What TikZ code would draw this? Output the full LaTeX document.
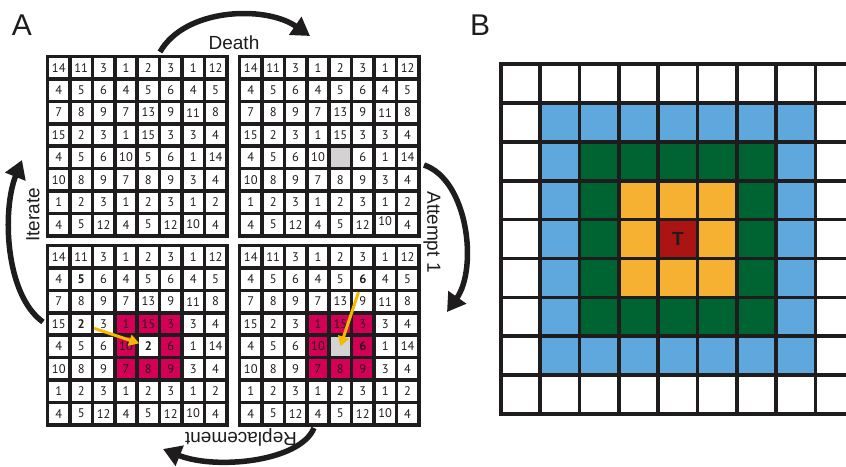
\documentclass[tikz,border=0pt]{standalone}
\usepackage{fontspec}
\setmainfont{Liberation Sans}
\newfontfamily\cellfont{PT Sans}
\usetikzlibrary{arrows.meta}
\definecolor{ink}{RGB}{30,28,28}
\definecolor{hot}{RGB}{212,0,86}
\definecolor{fog}{RGB}{212,210,210}
\definecolor{gold}{RGB}{245,185,0}
\definecolor{sky}{RGB}{94,168,221}
\definecolor{leaf}{RGB}{0,100,50}
\definecolor{amber}{RGB}{246,177,50}
\definecolor{brick}{RGB}{170,20,18}
\tikzset{
        cell/.style={draw=ink,line width=3.5pt,minimum size=22.4pt,inner sep=0pt,
                text=ink,font=\cellfont\fontsize{12.5}{12.5}\selectfont},
        heavy/.style={font=\cellfont\fontsize{12.5}{12.5}\selectfont\bfseries},
        emptycell/.style={fill=fog,/utils/exec=\def\cellv{}},
        ov b-5-5/.style={emptycell},
        ov b-8-7/.style={/utils/exec=\def\cellv{\raisebox{8pt}{10}}},
        ov c-2-2/.style={heavy},
        ov c-4-2/.style={heavy},
        ov c-5-5/.style={heavy,fill=white,/utils/exec=\def\cellv{2}},
        ov d-2-6/.style={heavy},
        ov d-5-5/.style={emptycell},
        ov d-5-6/.style={heavy},
        cyclearrow/.style={draw=ink,line width=5.5pt,-{Triangle[length=18pt,width=21pt]}},
        movearrow/.style={draw=gold,line width=3pt,-{Triangle[length=10pt,width=11pt]}},
        looptag/.style={text=ink,font=\fontsize{19}{19}\selectfont},
        bline/.style={draw=ink,line width=3.7pt,line cap=rect}
}
\begin{document}
\begin{tikzpicture}[x=1pt,y=-1pt]
        \useasboundingbox (0,0) rectangle (846,466);
        \clip (0,0) rectangle (846,466);
        \node[text=ink,font=\fontsize{30}{30}\selectfont] (pa) at (22,25) {A};
        \node[text=ink,font=\fontsize{30}{30}\selectfont] (pb) at (480,25) {B};
        \foreach \g/\gx/\gy in {c/47.6/245.6,d/239.6/245.6}
            \fill[hot] (\gx+67.2,\gy+67.2) rectangle ++(67.2,67.2);
        \foreach \g/\gx/\gy in {a/47.6/56.6,b/239.6/56.6,c/47.6/245.6,d/239.6/245.6}
            \foreach \row [count=\i] in {{14,11,3,1,2,3,1,12},{4,5,6,4,5,6,4,5},
                    {7,8,9,7,13,9,11,8},{15,2,3,1,15,3,3,4},{4,5,6,10,5,6,1,14},
                    {10,8,9,7,8,9,3,4},{1,2,3,1,2,3,1,2},{4,5,12,4,5,12,10,4}}
                \foreach \v [count=\j] in \row
                    \node[cell,/utils/exec=\def\cellv{\v},ov \g-\i-\j/.try] (\g-\i-\j)
                        at (\gx+\j*22.4-11.2,\gy+\i*22.4-11.2) {\cellv};
        \draw[movearrow,shorten >=-4pt] (c-4-2) -- (c-5-5);
        \draw[movearrow] (d-2-6) -- (d-5-5.center);
        \coordinate (ds) at (160,52);
        \coordinate (de) at (310,36);
        \coordinate (as) at (424,165);
        \coordinate (ae) at (447,312);
        \coordinate (rs) at (314,428);
        \coordinate (re) at (163,449);
        \coordinate (is) at (43,322);
        \coordinate (ie) at (22,160);
        \draw[cyclearrow] (ds) .. controls (185,8) and (265,5) .. (de);
        \draw[cyclearrow] (as) .. controls (468,180) and (478,268) .. (ae);
        \draw[cyclearrow] (rs) .. controls (300,462) and (215,470) .. (re);
        \draw[cyclearrow] (is) .. controls (5,295) and (2,210) .. (ie);
        \node[looptag] (death) at (234,43) {Death};
        \node[looptag,rotate=-90] (attempt) at (432,232) {Attempt 1};
        \node[looptag,rotate=180] (repl) at (241,437) {Replacement};
        \node[looptag,rotate=90] (iter) at (33,215) {Iterate};
        \begin{scope}[shift={(501,64)}]
            \def\bx{39.3}
            \def\by{38.9}
            \foreach \k/\col in {1/sky,2/leaf,3/amber,4/brick}
                \fill[\col] (\k*\bx,\k*\by) rectangle ({(9-\k)*\bx},{(9-\k)*\by});
            \foreach \i in {0,...,9} {
                \draw[bline] (\i*\bx,0) -- (\i*\bx,9*\by);
                \draw[bline] (0,\i*\by) -- (9.5*\bx,\i*\by);
            }
            \node[text=ink,font=\fontsize{19}{19}\selectfont\bfseries] (t) at (4.5*\bx,4.5*\by) {T};
        \end{scope}
\end{tikzpicture}
\end{document}
